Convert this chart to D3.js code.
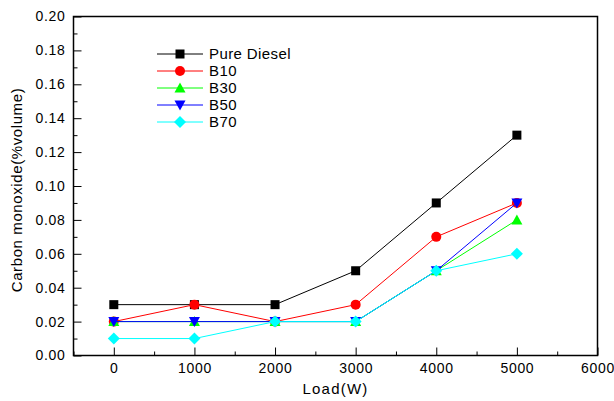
<!DOCTYPE html>
<html><head><meta charset="utf-8">
<script src="https://cdn.jsdelivr.net/npm/d3@7"></script>
<style>body{margin:0;background:#fff}svg{display:block}text{font-family:"Liberation Sans",Arial,sans-serif}</style>
</head><body><svg id="c" width="614" height="401"></svg>
<script>
const loads = [0, 1000, 2000, 3000, 4000, 5000];
const seriesNames = ["Pure Diesel", "B10", "B30", "B50", "B70"];
const pureDiesel = [0.03, 0.03, 0.03, 0.05, 0.09, 0.13];
const b10 = [0.02, 0.03, 0.02, 0.03, 0.07, 0.09];
const b30 = [0.02, 0.02, 0.02, 0.02, 0.05, 0.08];
const b50 = [0.02, 0.02, 0.02, 0.02, 0.05, 0.09];
const b70 = [0.01, 0.01, 0.02, 0.02, 0.05, 0.06];
const xTicks = [0, 1000, 2000, 3000, 4000, 5000, 6000];
const yTicks = [0, 0.02, 0.04, 0.06, 0.08, 0.10, 0.12, 0.14, 0.16, 0.18, 0.20];

const colors = ["#000000", "#ff0000", "#00ff00", "#0000ff", "#00ffff"];
const symbols = ["square", "circle", "up", "down", "diamond"];
const allData = [pureDiesel, b10, b30, b50, b70];

const svg = d3.select("#c");
const L = 73.5, R = 597.5, T = 16.5, B = 355.5;
const x = d3.scaleLinear().domain([-500, 6000]).range([L, R]);
const y = d3.scaleLinear().domain([0, 0.20]).range([B, T]);

const fmtY = d3.format(".2f");
const xAxis = d3.axisBottom(x).tickValues(xTicks).tickSize(-8).tickPadding(8).tickSizeOuter(0).tickFormat(d3.format("d"));
const xMinor = d3.axisBottom(x).tickValues([-500,500,1500,2500,3500,4500,5500]).tickSize(-4).tickFormat("").tickSizeOuter(0);
const yAxis = d3.axisLeft(y).tickValues(yTicks).tickSize(-8).tickPadding(8).tickSizeOuter(0).tickFormat(fmtY);
const yMinor = d3.axisLeft(y).tickValues(d3.range(0.01, 0.2, 0.02)).tickSize(-4).tickFormat("").tickSizeOuter(0);

function style(g){
  g.select(".domain").remove();
  g.selectAll(".tick line").attr("stroke","#000").attr("stroke-width",1);
  g.selectAll("text").attr("fill","#000").style("font-size","14px").style("letter-spacing","0.7px");
}
svg.append("g").attr("transform",`translate(0,${B})`).call(xAxis).call(style);
svg.append("g").attr("transform",`translate(0,${B})`).call(xMinor).call(style);
svg.append("g").attr("transform",`translate(${L},0)`).call(yAxis).call(style);
svg.append("g").attr("transform",`translate(${L},0)`).call(yMinor).call(style);

svg.append("rect").attr("x",L).attr("y",T).attr("width",R-L).attr("height",B-T)
  .attr("fill","none").attr("stroke","#000").attr("stroke-width",1.5);

svg.append("text").attr("x",(L+R)/2).attr("y",394).attr("text-anchor","middle")
  .style("font-size","15px").style("letter-spacing","1.2px").text("Load(W)");
svg.append("text").attr("transform",`translate(22,${(T+B)/2 + 4}) rotate(-90)`).attr("text-anchor","middle")
  .style("font-size","15px").style("letter-spacing","0.6px").text("Carbon monoxide(%volume)");

function drawMarker(g, i, cx, cy){
  const c = colors[i], t = symbols[i];
  if (t === "square") g.append("rect").attr("x",cx-4.5).attr("y",cy-4.5).attr("width",9).attr("height",9).attr("fill",c);
  else if (t === "circle") g.append("circle").attr("cx",cx).attr("cy",cy).attr("r",5).attr("fill",c);
  else if (t === "up") g.append("path").attr("d",`M${cx},${cy-5.5}L${cx+5.5},${cy+4.5}L${cx-5.5},${cy+4.5}Z`).attr("fill",c);
  else if (t === "down") g.append("path").attr("d",`M${cx},${cy+5.5}L${cx+5.5},${cy-4.5}L${cx-5.5},${cy-4.5}Z`).attr("fill",c);
  else g.append("path").attr("d",`M${cx},${cy-6}L${cx+6},${cy}L${cx},${cy+6}L${cx-6},${cy}Z`).attr("fill",c);
}

const line = d3.line().x((d,j)=>x(loads[j])).y(d=>y(d));
allData.forEach((vals,i)=>{
  const g = svg.append("g");
  g.append("path").attr("d",line(vals)).attr("fill","none").attr("stroke",colors[i]).attr("stroke-width",1);
  vals.forEach((v,j)=>drawMarker(g, i, x(loads[j]), y(v)));
});

const lg = svg.append("g");
seriesNames.forEach((n,i)=>{
  const yy = 54 + i*17;
  lg.append("line").attr("x1",157).attr("x2",203).attr("y1",yy).attr("y2",yy).attr("stroke",colors[i]).attr("stroke-width",1);
  drawMarker(lg, i, 180, yy);
  lg.append("text").attr("x",209).attr("y",yy+5).style("font-size","15px").style("letter-spacing","0.4px").text(n);
});
</script></body></html>
